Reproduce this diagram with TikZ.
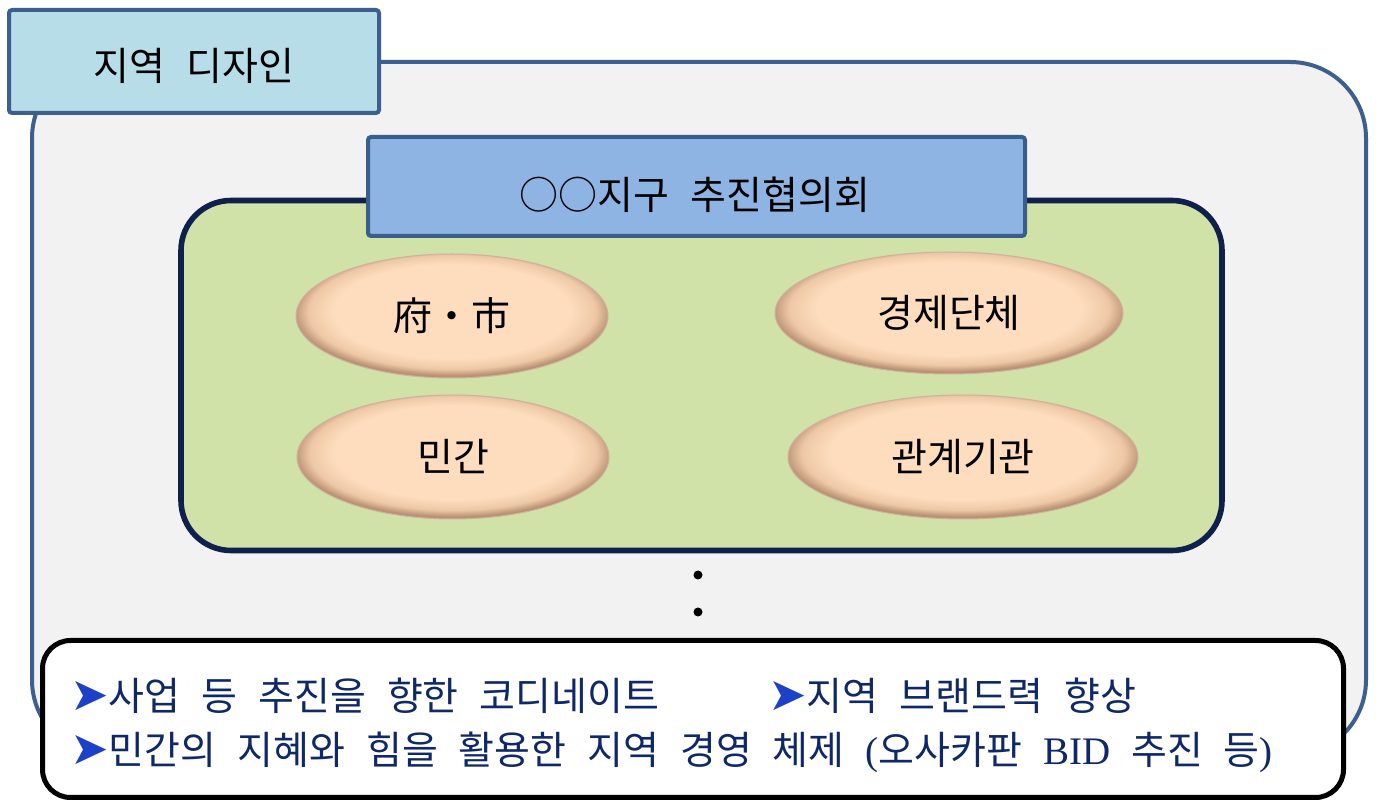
\documentclass[tikz,border=0pt]{standalone}
\usepackage{fontspec}
\usetikzlibrary{shapes.geometric}
\newfontfamily\kr[WordSpace=2.4]{Noto Sans CJK KR}
\newfontfamily\dvs{DejaVu Sans}
\newfontfamily\lser{Liberation Serif}
\definecolor{outfill}{RGB}{242,242,242}
\definecolor{outdraw}{RGB}{60,95,142}
\definecolor{labfill}{RGB}{183,221,232}
\definecolor{hdrfill}{RGB}{142,180,227}
\definecolor{hdrdraw}{RGB}{58,94,140}
\definecolor{grnfill}{RGB}{208,226,168}
\definecolor{grndraw}{RGB}{16,32,76}
\definecolor{pch}{RGB}{253,221,190}
\definecolor{pchtop}{RGB}{255,240,226}
\definecolor{pchmid}{RGB}{238,200,166}
\definecolor{pchrim}{RGB}{185,145,115}
\definecolor{navytxt}{RGB}{14,40,104}
\definecolor{bulc}{RGB}{28,64,200}
\pgfdeclareradialshading{bevel}{\pgfpoint{0bp}{3bp}}{color(0bp)=(pch); color(19bp)=(pch); color(23bp)=(pchmid); color(25.5bp)=(pchrim); color(50bp)=(pchrim)}
\newcommand\bul{{\dvs\color{bulc}\fontsize{23}{23}\selectfont ➤}}
\tikzset{
  outerbox/.style={draw=outdraw, fill=outfill, line width=2pt, rounded corners=38pt},
  labbox/.style={draw=outdraw, fill=labfill, line width=2pt, rounded corners=1.5pt, inner sep=0pt},
  hdrbox/.style={draw=hdrdraw, fill=hdrfill, line width=2pt, rounded corners=1.5pt, inner sep=0pt},
  grnbox/.style={draw=grndraw, fill=grnfill, line width=2.8pt, rounded corners=25pt, inner sep=0pt},
  oval/.style={ellipse, shading=bevel, draw=pchrim!70!white, line width=0.5pt, inner sep=0pt,
     font=\kr\fontsize{19.5}{19.5}\selectfont, text height=14.6pt, text depth=0pt},
  ttl/.style={inner sep=0pt, font=\kr\fontsize{19.5}{19.5}\selectfont, text height=14.6pt, text depth=0pt},
  btmbox/.style={draw=black, fill=white, line width=2.5pt, rounded corners=14pt, inner sep=0pt},
  btxt/.style={inner sep=0pt, anchor=base west, text=navytxt, font=\kr\fontsize{19.5}{19.5}\selectfont},
  dotn/.style={circle, fill=black, inner sep=0pt, minimum size=4.5pt}
}
\begin{document}
\begin{tikzpicture}[x=0.5pt,y=-0.5pt]
\useasboundingbox (0,0) rectangle (1377,801);
\fill[white] (0,0) rectangle (1377,801);
% outer region
\node[outerbox, minimum width=667pt, minimum height=347pt, inner sep=0pt] (outer) at (699,409) {};
% title label
\node[labbox, minimum width=185pt, minimum height=51.5pt] (lab) at (194,61.5) {};
\node[ttl] (labt) at (194,66) {지역 디자인};
% green council box
\node[grnbox, minimum width=520.5pt, minimum height=175pt] (grn) at (701.5,375.5) {};
\node[hdrbox, minimum width=328.5pt, minimum height=49.5pt] (hdr) at (696.5,186.5) {};
\node[ttl] (hdrt) at (695,195) {○○지구 추진협의회};
% ovals
\node[oval, minimum width=156pt, minimum height=62pt] (fu) at (452,316) {府・市};
\node[oval, minimum width=174pt, minimum height=61pt] (ke) at (949,313) {경제단체};
\node[oval, minimum width=156pt, minimum height=62pt] (mi) at (453,457) {민간};
\node[oval, minimum width=175pt, minimum height=62pt] (kw) at (963,457) {관계기관};
% dots
\node[dotn] (d1) at (698,575) {};
\node[dotn] (d2) at (698,612) {};
% bottom box
\node[btmbox, minimum width=650.5pt, minimum height=78.5pt] (btm) at (693,719) {};
\node[btxt] (b1) at (70,711) {\bul{}사업 등 추진을 향한 코디네이트};
\node[btxt] (b2) at (768,711) {\bul{}지역 브랜드력 향상};
\node[btxt] (b3) at (70,765) {\bul{}민간의 지혜와 힘을 활용한 지역 경영 체제 {\lser(}오사카판 {\lser BID} 추진 등{\lser)}};
\end{tikzpicture}
\end{document}
